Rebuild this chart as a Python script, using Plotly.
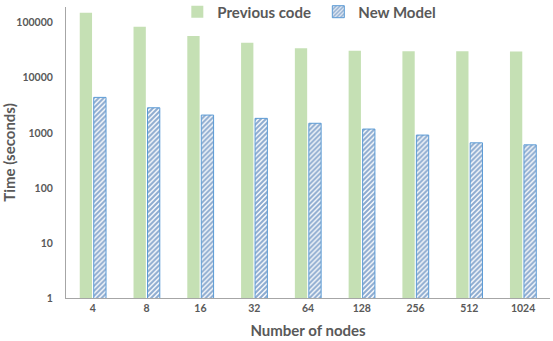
import plotly.graph_objects as go

# Run time (seconds) per node count, log-scaled
nodes = ["4", "8", "16", "32", "64", "128", "256", "512", "1024"]
previous_code = [152000, 84600, 57300, 43300, 34200, 31000, 30400, 30200, 30000]
new_model = [4400, 2850, 2100, 1830, 1490, 1170, 910, 658, 605]
y_ticks = [1, 10, 100, 1000, 10000, 100000]

FONT = "Lato"
GREY = "#595959"

fig = go.Figure()
fig.add_trace(go.Bar(
    x=nodes, y=previous_code, name="Previous code",
    marker=dict(color="#c5e0b4", line=dict(width=0)),
))
fig.add_trace(go.Bar(
    x=nodes, y=new_model, name="New Model",
    marker=dict(
        color="white",
        line=dict(color="#5b9bd5", width=1),
        pattern=dict(shape="/", fgcolor="#1a56a0", bgcolor="white",
                     size=3.5, solidity=0.6, fillmode="overlay"),
    ),
))

fig.update_layout(
    width=553, height=341,
    margin=dict(l=66, r=3, t=7, b=43, autoexpand=False),
    paper_bgcolor="white", plot_bgcolor="white",
    barmode="group", bargap=0.48, bargroupgap=0.12,
    font=dict(family=FONT, color=GREY),
    legend=dict(
        orientation="h", x=0.23, y=0.983, xanchor="left", yanchor="middle",
        font=dict(family=FONT, size=15, color=GREY, weight="bold"),
        bgcolor="rgba(0,0,0,0)", itemwidth=30, traceorder="normal",
        entrywidth=96,
    ),
    xaxis=dict(
        showline=True, linecolor="#a6a6a6", linewidth=1,
        showgrid=False, ticks="",
        tickfont=dict(family=FONT, size=10.5, color=GREY, weight="bold"),
        title=dict(text="Number of nodes", standoff=12,
                   font=dict(family=FONT, size=15, color=GREY, weight="bold")),
    ),
    yaxis=dict(
        type="log", range=[0, 5.285],
        tickvals=y_ticks, ticktext=[str(v) for v in y_ticks],
        showline=True, linecolor="#a6a6a6", linewidth=1,
        showgrid=False, ticks="", ticklabelstandoff=10,
        tickfont=dict(family=FONT, size=10.5, color=GREY, weight="bold"),
        title=dict(text="Time (seconds)", standoff=6,
                   font=dict(family=FONT, size=15, color=GREY, weight="bold")),
    ),
)

fig.write_html("out.html")
